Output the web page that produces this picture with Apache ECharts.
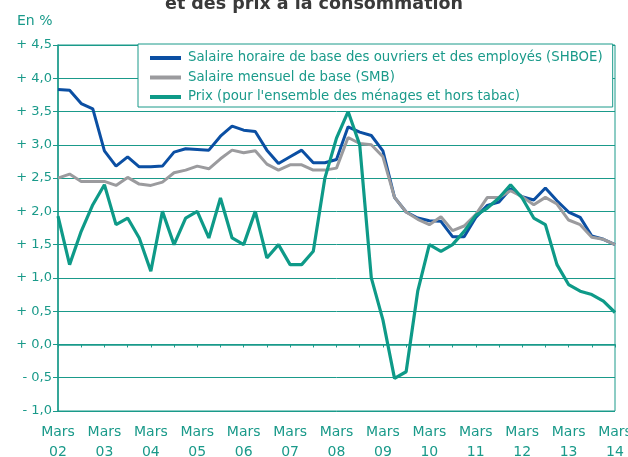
<!DOCTYPE html>
<html>
<head>
<meta charset="utf-8">
<script src="https://cdn.jsdelivr.net/npm/echarts@6/dist/echarts.min.js"></script>
<style>
  html, body { margin: 0; padding: 0; background: #fff; }
  #chart { width: 628px; height: 457px; }
</style>
</head>
<body>
<div id="chart"></div>
<script>
// années (libellés de l'axe X, un par mois de mars)
const years = ['02', '03', '04', '05', '06', '07', '08', '09', '10', '11', '12', '13', '14']
const months = ['Mars', 'Juin', 'Sept', 'Déc']

// Salaire horaire de base des ouvriers et des employés (SHBOE)
const shboe = [3.83, 3.82, 3.62, 3.54, 2.91, 2.68, 2.82, 2.67, 2.67, 2.68,
  2.89, 2.94, 2.93, 2.92, 3.13, 3.28, 3.22, 3.20, 2.92, 2.72,
  2.82, 2.92, 2.73, 2.73, 2.78, 3.27, 3.19, 3.14, 2.91, 2.21,
  1.99, 1.90, 1.86, 1.85, 1.62, 1.62, 1.91, 2.09, 2.14, 2.34,
  2.22, 2.17, 2.35, 2.16, 1.99, 1.91, 1.63, 1.58, 1.50]

// Salaire mensuel de base (SMB)
const smb = [2.50, 2.56, 2.45, 2.45, 2.45, 2.39, 2.51, 2.41, 2.39, 2.44,
  2.58, 2.62, 2.68, 2.64, 2.79, 2.92, 2.88, 2.91, 2.71, 2.62,
  2.70, 2.70, 2.62, 2.62, 2.65, 3.11, 3.02, 3.00, 2.82, 2.21,
  1.99, 1.88, 1.80, 1.92, 1.71, 1.78, 1.95, 2.21, 2.21, 2.31,
  2.22, 2.10, 2.21, 2.11, 1.87, 1.80, 1.61, 1.58, 1.50]

// Prix (pour l'ensemble des ménages et hors tabac)
const prix = [1.93, 1.20, 1.70, 2.10, 2.40, 1.80, 1.90, 1.60, 1.10, 2.00,
  1.50, 1.90, 2.00, 1.60, 2.20, 1.60, 1.50, 2.00, 1.30, 1.50,
  1.20, 1.20, 1.40, 2.50, 3.10, 3.50, 3.00, 1.00, 0.37, -0.51,
  -0.41, 0.80, 1.50, 1.40, 1.50, 1.70, 1.94, 2.05, 2.20, 2.40,
  2.20, 1.90, 1.80, 1.20, 0.90, 0.80, 0.75, 0.65, 0.48]

const seriesNames = [
  'Salaire horaire de base des ouvriers et des employés (SHBOE)',
  'Salaire mensuel de base (SMB)',
  'Prix (pour l\'ensemble des ménages et hors tabac)'
]

// trimestres : mars 02 ... mars 14
const categories = []
years.forEach((y, i) => {
  months.forEach((m, j) => {
    if (i < years.length - 1 || j === 0) categories.push(m + '\n' + y)
  })
})

const teal = '#1a9a8a'
const font = 'DejaVu Sans'

const chart = echarts.init(document.getElementById('chart'))
const option = {
  backgroundColor: '#fff',
  animation: false,
  textStyle: { fontFamily: font },
  title: {
    text: 'et des prix à la consommation',
    left: 'center',
    top: -10,
    textStyle: { color: '#3a3a3a', fontSize: 17.5, fontWeight: 'bold', fontFamily: font }
  },
  graphic: [{
    type: 'text',
    left: 17,
    top: 14,
    style: { text: 'En %', fill: teal, fontSize: 14, fontFamily: font }
  }],
  legend: {
    orient: 'vertical',
    left: 138,
    top: 44,
    padding: [7, 10, 3, 12],
    itemGap: 5.5,
    itemWidth: 31,
    itemHeight: 4,
    icon: 'rect',
    backgroundColor: '#fff',
    borderColor: teal,
    borderWidth: 1,
    textStyle: { color: teal, fontSize: 13.3, lineHeight: 14, fontFamily: font, padding: [0, 0, 0, 2] },
    data: seriesNames
  },
  grid: {
    left: 58,
    right: 13,
    top: 45,
    bottom: 46,
    outerBoundsMode: 'none',
    containLabel: false,
    show: true,
    borderColor: teal,
    borderWidth: 1
  },
  xAxis: {
    type: 'category',
    data: categories,
    boundaryGap: false,
    axisLine: { lineStyle: { color: teal, width: 1.5 } },
    axisTick: { interval: 1, length: 3, lineStyle: { color: teal } },
    axisLabel: {
      interval: 3,
      color: teal,
      fontSize: 14,
      lineHeight: 20,
      margin: 11,
      fontFamily: font
    },
    splitLine: { show: false }
  },
  yAxis: {
    type: 'value',
    min: -1,
    max: 4.5,
    interval: 0.5,
    axisLine: { show: true, lineStyle: { color: teal, width: 1.5 } },
    axisTick: { show: true, length: 5, lineStyle: { color: teal } },
    axisLabel: {
      color: teal,
      fontSize: 13,
      margin: 6,
      fontFamily: font,
      formatter: v => (v < 0 ? '- ' : '+ ') + Math.abs(v).toFixed(1).replace('.', ',')
    },
    splitLine: { lineStyle: { color: teal, width: 1 } }
  },
  series: [
    {
      name: seriesNames[0],
      type: 'line',
      data: shboe,
      symbol: 'none',
      lineStyle: { color: '#0b4fa3', width: 3 },
      itemStyle: { color: '#0b4fa3' }
    },
    {
      name: seriesNames[1],
      type: 'line',
      data: smb,
      symbol: 'none',
      lineStyle: { color: '#9b9b9e', width: 3 },
      itemStyle: { color: '#9b9b9e' }
    },
    {
      name: seriesNames[2],
      type: 'line',
      data: prix,
      symbol: 'none',
      lineStyle: { color: '#0e9a88', width: 3.2 },
      itemStyle: { color: '#0e9a88' }
    }
  ]
}
chart.setOption(option)
</script>
</body>
</html>
